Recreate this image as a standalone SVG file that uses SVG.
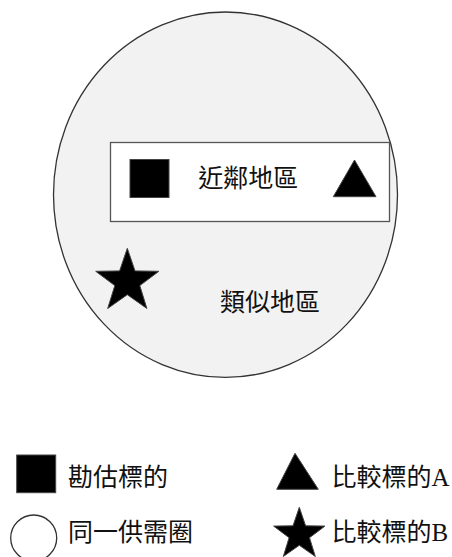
<svg xmlns="http://www.w3.org/2000/svg" width="452" height="557" viewBox="0 0 452 557">
<style>
.t{font-family:"Liberation Serif","Noto Sans CJK TC",serif;font-size:25px;fill:#111}
.sh{fill:#000;stroke:#444;stroke-width:1}
</style>
<rect width="452" height="557" fill="#fff"/>
<g id="circle-region">
<ellipse cx="225.5" cy="194.7" rx="172" ry="182.7" fill="#f2f2f2" stroke="#333" stroke-width="1.3"/>
<text class="t" x="270" y="311" text-anchor="middle">類似地區</text>
</g>
<g id="neighborhood">
<rect x="110.5" y="142.5" width="279" height="79" fill="#fff" stroke="#555" stroke-width="1.3"/>
<text class="t" x="248.3" y="186.5" text-anchor="middle">近鄰地區</text>
</g>
<g id="subject"><rect class="sh" x="130" y="159.5" width="39" height="38"/></g>
<g id="compA"><polygon class="sh" points="354.5,160 333.3,196.7 376,196.7"/></g>
<g id="compB"><polygon class="sh" points="127.3,248.3 135,270.9 158.9,271.3 139.8,285.6 146.9,308.5 127.3,294.7 107.7,308.5 114.8,285.6 95.7,271.3 119.6,270.9"/></g>
<g id="legend">
<rect class="sh" x="16.7" y="455" width="39" height="37.7"/>
<text class="t" x="68" y="486">勘估標的</text>
<polygon class="sh" points="295,453.3 276.7,489.3 318.3,489.3"/>
<text class="t" x="331.5" y="486">比較標的A</text>
<ellipse cx="33.7" cy="538" rx="23" ry="23" fill="#fff" stroke="#333" stroke-width="1.3"/>
<text class="t" x="68" y="541">同一供需圈</text>
<polygon class="sh" points="299.3,507.3 305.6,525.8 325,526.1 309.5,537.7 315.3,556.5 299.3,545.3 283.3,556.5 289.1,537.7 273.6,526.1 293,525.8"/>
<text class="t" x="331.5" y="541">比較標的B</text>
</g>
<g id="connectors"/>
</svg>
